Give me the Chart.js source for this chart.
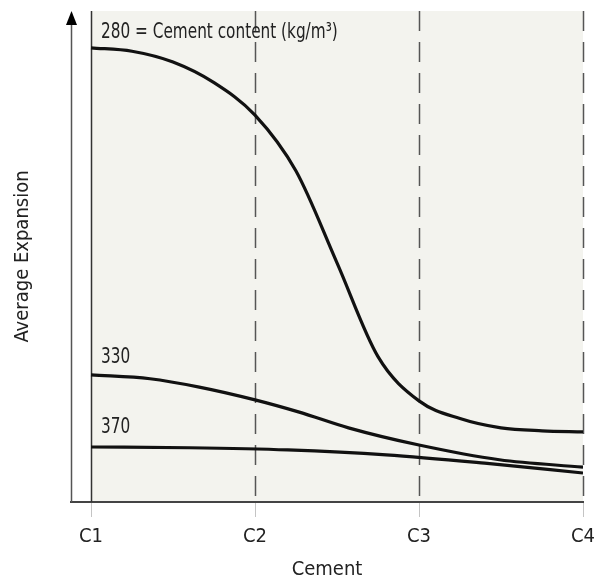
<!DOCTYPE html>
<html>
<head>
<meta charset="utf-8">
<script src="https://cdn.jsdelivr.net/npm/chart.js@4.4.1/dist/chart.umd.min.js"></script>
<style>
    body { margin: 0; background: #fff; }
</style>
</head>
<body>
<canvas id="c" width="597" height="583"></canvas>
<script>
(function () {

    // cement type positions on x axis
    const xTicks = [1, 2, 3, 4];
    const xLabels = ['C1', 'C2', 'C3', 'C4'];

    // curves (relative expansion, 0-100)
    const x280 = [1, 1.25, 1.5, 1.75, 2, 2.25, 2.5, 2.75, 3, 3.25, 3.5, 3.75, 4];
    const y280 = [92.5, 91.8, 89.6, 85.4, 78.8, 67.4, 48.7, 29.6, 20.6, 17.0, 15.1, 14.5, 14.3];

    const x330 = [1, 1.36, 1.66, 2, 2.27, 2.57, 3, 3.49, 4];
    const y330 = [25.9, 25.1, 23.4, 20.8, 18.3, 15.1, 11.6, 8.6, 7.1];

    const x370 = [1, 1.6, 2.2, 2.8, 3.4, 4];
    const y370 = [11.2, 11.05, 10.6, 9.6, 7.9, 5.9];

    const curveLabels = ['280 = Cement content (kg/m³)', '330', '370'];

    const FONT = '"Liberation Sans Narrow", "DejaVu Sans Condensed", sans-serif';

    let pts = function (xs, ys) {
        return xs.map(function (x, i) {
            return {x: x, y: ys[i]};
        });
    };

    let line = function (xs, ys) {
        return {
            data: pts(xs, ys),
            borderColor: '#111',
            borderWidth: 3.2,
            pointRadius: 0,
            fill: false,
            cubicInterpolationMode: 'monotone'
        };
    };

    const deco = {
        id: 'deco',
        beforeDraw: function (chart) {
            const ctx = chart.ctx;
            const a = chart.chartArea;
            const xs = chart.scales.x;
            const x1 = xs.getPixelForValue(xTicks[0]);
            const x4 = xs.getPixelForValue(xTicks[xTicks.length - 1]);
            ctx.save();
            ctx.fillStyle = '#f3f3ee';
            ctx.fillRect(x1, a.top, x4 - x1, a.bottom - a.top);
            ctx.restore();
        },
        beforeDatasetsDraw: function (chart) {
            const ctx = chart.ctx;
            const a = chart.chartArea;
            const xs = chart.scales.x;
            ctx.save();
            xTicks.forEach(function (v, i) {
                const px = Math.round(xs.getPixelForValue(v)) + 0.5;
                ctx.beginPath();
                if (i === 0) {
                    ctx.setLineDash([]);
                    ctx.strokeStyle = '#333';
                    ctx.lineWidth = 1.5;
                } else {
                    ctx.setLineDash([20, 11]);
                    ctx.strokeStyle = '#555';
                    ctx.lineWidth = 1.5;
                }
                ctx.moveTo(px, a.top);
                ctx.lineTo(px, a.bottom);
                ctx.stroke();
            });
            ctx.setLineDash([]);

            // y axis with arrow
            const ax = a.left + 0.5;
            ctx.strokeStyle = '#555';
            ctx.lineWidth = 1.5;
            ctx.beginPath();
            ctx.moveTo(ax, a.bottom);
            ctx.lineTo(ax, a.top + 10);
            ctx.stroke();
            ctx.fillStyle = '#000';
            ctx.beginPath();
            ctx.moveTo(ax, a.top);
            ctx.lineTo(ax - 5.5, a.top + 14);
            ctx.lineTo(ax + 5.5, a.top + 14);
            ctx.closePath();
            ctx.fill();
            ctx.restore();
        },
        afterDatasetsDraw: function (chart) {
            const ctx = chart.ctx;
            const xs = chart.scales.x;
            const ys = chart.scales.y;
            const lx = xs.getPixelForValue(xTicks[0]) + 10;
            const put = function (txt, y) {
                ctx.save();
                ctx.translate(lx, y);
                ctx.scale(0.85, 1.08);
                ctx.fillText(txt, 0, 0);
                ctx.restore();
            };
            ctx.save();
            ctx.fillStyle = '#222';
            ctx.font = '20px ' + FONT;
            ctx.textBaseline = 'middle';
            put(curveLabels[0], ys.getPixelForValue(y280[0]) - 15);
            put(curveLabels[1], ys.getPixelForValue(y330[0]) - 17);
            put(curveLabels[2], ys.getPixelForValue(y370[0]) - 20);
            ctx.restore();
        }
    };

    const config = {
        type: 'line',
        data: {
            datasets: [line(x280, y280), line(x330, y330), line(x370, y370)]
        },
        options: {
            responsive: false,
            animation: false,
            layout: {
                padding: {top: 11, right: 14, left: 0, bottom: 0}
            },
            scales: {
                x: {
                    type: 'linear',
                    min: 0.878,
                    max: 4,
                    afterBuildTicks: function (scale) {
                        scale.ticks = xTicks.map(function (v) {
                            return {value: v};
                        });
                    },
                    afterFit: function (scale) {
                        scale.paddingLeft = 0;
                        scale.paddingRight = 0;
                        scale.height = 81;
                    },
                    ticks: {
                        autoSkip: false,
                        maxRotation: 0,
                        color: '#222',
                        padding: 8,
                        font: {family: FONT, size: 20},
                        callback: function (v) {
                            return xLabels[xTicks.indexOf(v)];
                        }
                    },
                    grid: {
                        drawOnChartArea: false,
                        drawTicks: true,
                        tickLength: 15,
                        tickColor: '#c4c4c4',
                        tickWidth: 1
                    },
                    border: {
                        color: '#444',
                        width: 2
                    },
                    title: {
                        display: true,
                        text: 'Cement',
                        color: '#222',
                        font: {family: FONT, size: 20},
                        padding: {top: 4, bottom: 1}
                    }
                },
                y: {
                    min: 0,
                    max: 100,
                    afterFit: function (scale) {
                        scale.width = 71;
                    },
                    ticks: {display: false},
                    grid: {display: false},
                    border: {display: false},
                    title: {
                        display: true,
                        text: 'Average Expansion',
                        color: '#222',
                        font: {family: FONT, size: 20},
                        padding: {top: 11, bottom: 0}
                    }
                }
            },
            plugins: {
                legend: {display: false},
                title: {display: false},
                tooltip: {enabled: false}
            }
        },
        plugins: [deco]
    };

    new Chart(document.getElementById('c').getContext('2d'), config);

})();
</script>
</body>
</html>
